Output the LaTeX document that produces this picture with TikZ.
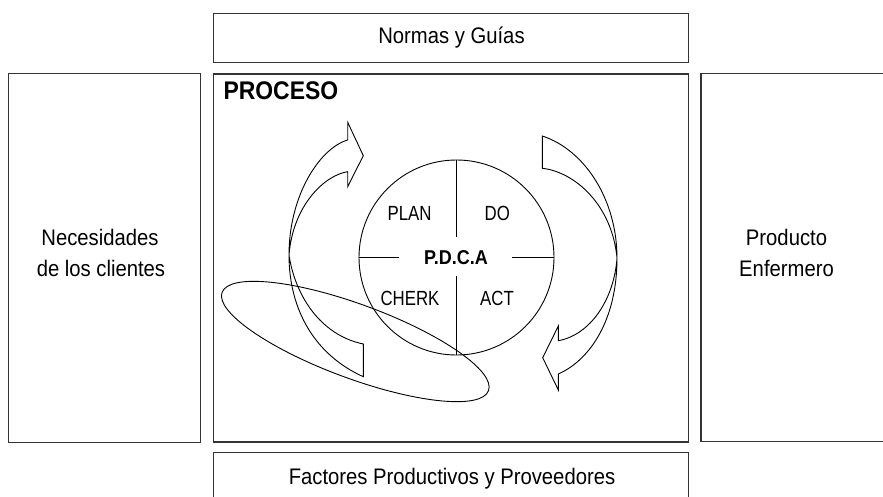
\documentclass[tikz,border=0pt]{standalone}
\usepackage{fontspec}
\setmainfont{Liberation Sans}
\newfontfamily\lab[FakeStretch=0.9]{Liberation Sans}
\newfontfamily\labn[FakeStretch=0.82]{Liberation Sans}
\begin{document}
\begin{tikzpicture}[x=1pt,y=-1pt,
  frame/.style={draw=black!80, line width=1.1pt, rectangle, inner sep=0pt},
  bigtext/.style={font=\lab\fontsize{22.5}{27}\selectfont, inner sep=0pt, anchor=base},
  boldtext/.style={font=\lab\bfseries\fontsize{25.5}{30}\selectfont, inner sep=0pt, anchor=base west},
  midtext/.style={font=\lab\bfseries\fontsize{20}{24}\selectfont, inner sep=0pt, anchor=base},
  smalltext/.style={font=\labn\fontsize{20.5}{24}\selectfont, inner sep=0pt, anchor=base},
  thin/.style={draw=black, line width=0.9pt},
  arrowline/.style={draw=black, line width=0.9pt, line join=miter}]
\useasboundingbox (0,0) rectangle (883,497);
\clip (0,0) rectangle (883,497);
% boxes
\node[frame, minimum width=475pt, minimum height=49.4pt] (normas) at (450.8,38) {};
\node[frame, minimum width=192.2pt, minimum height=369.4pt] (necesidades) at (104.4,258) {};
\node[frame, minimum width=475pt, minimum height=368pt] (proceso) at (450.8,258) {};
\node[frame, minimum width=194pt, minimum height=368.4pt] (producto) at (798,257.5) {};
\node[frame, minimum width=475pt, minimum height=52.7pt] (factores) at (450.8,478.6) {};
% texts
\node[bigtext] (tnormas) at (451.5,43.3) {Normas y Guías};
\node[bigtext] (tfact) at (452,484) {Factores Productivos y Proveedores};
\node[bigtext] (tnec1) at (100,245) {Necesidades};
\node[bigtext] (tnec2) at (101,276.7) {de los clientes};
\node[bigtext] (tprod1) at (786.5,245) {Producto};
\node[bigtext] (tprod2) at (786.5,276.7) {Enfermero};
\node[boldtext] (tproc) at (223.3,100) {PROCESO};
% PDCA circle
\node[thin, circle, minimum size=195pt, inner sep=0pt] (pdca) at (456.5,257.5) {};
\coordinate (vt) at (456.5,237);
\coordinate (vb) at (456.5,276);
\coordinate (hl) at (399,257.5);
\coordinate (hr) at (512,257.5);
\draw[thin] (pdca.north) -- (vt);
\draw[thin] (vb) -- (pdca.south);
\draw[thin] (pdca.west) -- (hl);
\draw[thin] (hr) -- (pdca.east);
\node[smalltext] (plan) at (409.5,220) {PLAN};
\node[smalltext] (do) at (497.3,220) {DO};
\node[smalltext] (cherk) at (410,305.7) {CHERK};
\node[smalltext] (act) at (497,305.7) {ACT};
\node[midtext] (pdcat) at (456,264.3) {P.D.C.A};
% left curved arrow
\draw[arrowline] (363.3,376.7) .. controls (315,355) and (289,310) .. (289,255)
  .. controls (289,195) and (320,148) .. (347.7,140)
  -- (347.7,122.3) -- (363.3,155.7) -- (347.7,186.7) -- (347.7,171.7)
  .. controls (325,175) and (293,205) .. (289,255)
  .. controls (295,295) and (320,335) .. (363.3,344) -- cycle;
% right curved arrow
\draw[arrowline] (542.3,136) .. controls (585,150) and (617,200) .. (617,258)
  .. controls (617,320) and (590,360) .. (558.3,374)
  -- (558.3,390) -- (542.7,357.7) -- (558.3,326) -- (558.3,340.7)
  .. controls (590,335) and (614,300) .. (617,258)
  .. controls (612,205) and (575,172) .. (542.3,168.3) -- cycle;
% ellipse
\draw[thin, rotate around={-20.25:(355.3,341.5)}] (355.3,341.5) ellipse [x radius=142, y radius=37];
\end{tikzpicture}
\end{document}
